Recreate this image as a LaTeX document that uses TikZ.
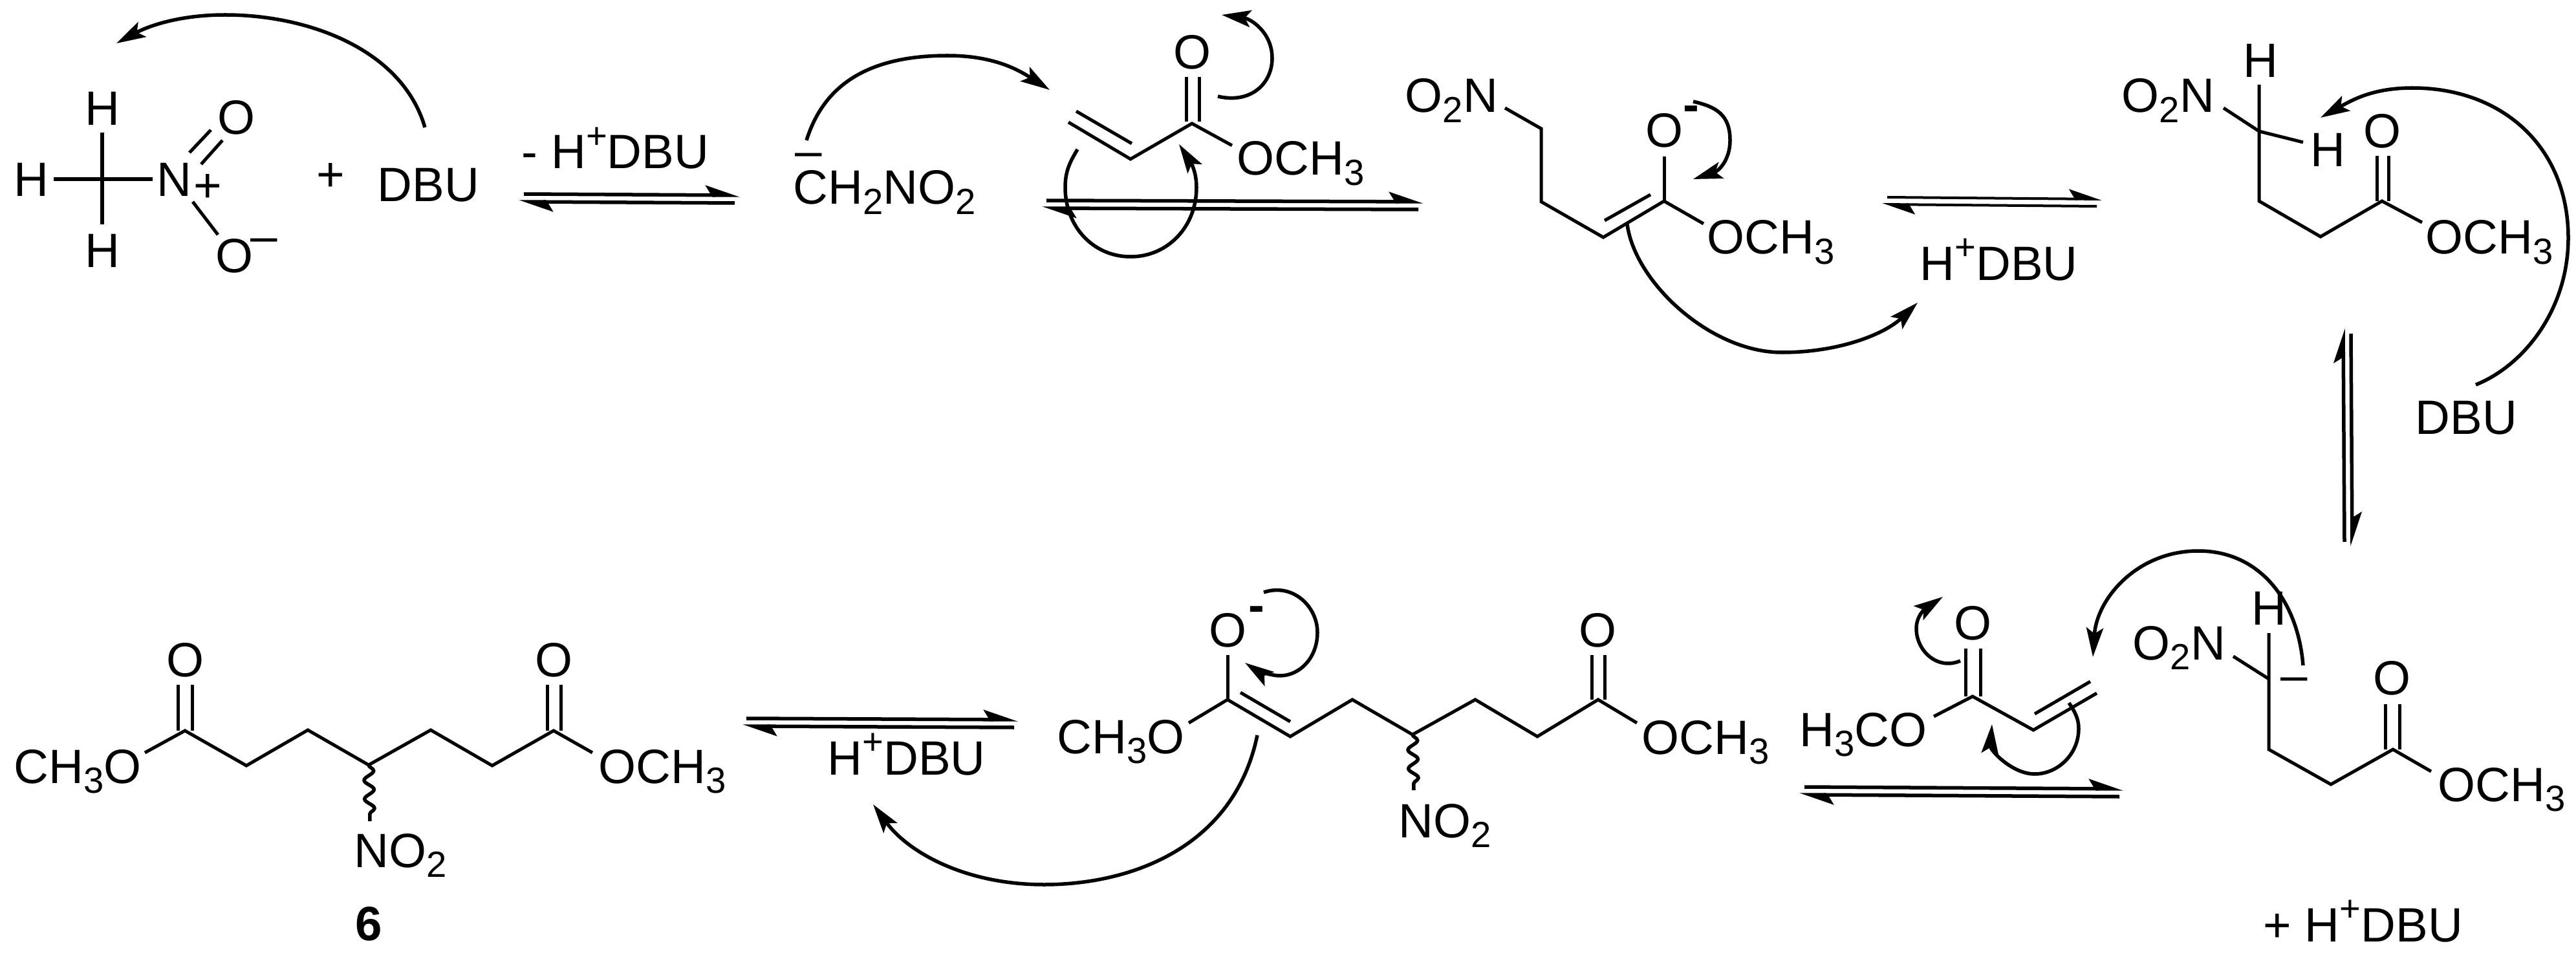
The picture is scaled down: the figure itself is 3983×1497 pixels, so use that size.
\documentclass[tikz,border=0pt]{standalone}
\usepackage{fontspec}
\setmainfont{Liberation Sans}
\usetikzlibrary{arrows.meta,decorations.pathmorphing}
\newcommand{\chemsub}[1]{\raisebox{-0.21em}{\fontsize{16}{18}\selectfont #1}}
\newcommand{\chemsup}[1]{\raisebox{0.42em}{\fontsize{16}{18}\selectfont #1}}
\begin{document}
\begin{tikzpicture}[x=0.01cm,y=-0.01cm,
  every node/.style={inner sep=0pt,font=\fontsize{21.2}{25}\selectfont},
  atom/.style={anchor=base},
  grp/.style={anchor=base west},
  bond/.style={line width=0.05cm},
  wavy/.style={line width=0.055cm,decorate,decoration={snake,amplitude=0.075cm,segment length=0.29cm}},
  eqarrow/.style={line width=0.055cm,-{Stealth[harpoon,length=0.45cm,width=0.3cm,inset=0.09cm]}},
  eqthin/.style={line width=0.04cm,-{Stealth[harpoon,length=0.45cm,width=0.3cm,inset=0.09cm]}},
  push/.style={line width=0.055cm,-{Stealth[length=0.45cm,width=0.26cm,inset=0.09cm]}}]

\useasboundingbox (0,0) rectangle (3983,1497);

\node[atom] (nmH1) at (48,304) {H};
\node[atom] (nmH2) at (158,194) {H};
\node[atom] (nmH3) at (158,413) {H};
\node[atom] (nmN) at (269,304) {N};
\node[atom] (nmPlus) at (321,313) {+};
\node[atom] (nmO1) at (365,208) {O};
\node[atom] (nmO2) at (362,422) {O};
\node[atom] (nmMinus) at (408,390) {–};
\node[atom] (plusA) at (511,296) {+};
\node[grp] (dbuA) at (583,312) {DBU};
\node[grp] (lossA) at (806,261) {- H\chemsup{+}DBU};
\node[atom] (caMinus) at (1250,259) {–};
\node[grp] (ylide) at (1226,316) {CH\chemsub{2}NO\chemsub{2}};
\node[atom] (acO) at (1843,107) {O};
\node[grp] (acOMe) at (1912,271) {OCH\chemsub{3}};
\node[grp] (enNO) at (2172,174) {O\chemsub{2}N};
\node[atom] (enOx) at (2573,228) {O};
\node[atom,font=\fontsize{21.2}{25}\selectfont\bfseries] (enMinus) at (2615,188) {-};
\node[grp] (enOMe) at (2639,393) {OCH\chemsub{3}};
\node[grp] (dbuB) at (2968,433) {H\chemsup{+}DBU};
\node[grp] (neNO) at (3280,174) {O\chemsub{2}N};
\node[atom] (neH1) at (3495,120) {H};
\node[atom] (neH2) at (3599,258) {H};
\node[atom] (neO) at (3683,229) {O};
\node[grp] (neOMe) at (3750,393) {OCH\chemsub{3}};
\node[grp] (dbuC) at (3734,671) {DBU};
\node[grp] (caNO) at (3297,1020) {O\chemsub{2}N};
\node[atom] (caH) at (3508,966) {H};
\node[atom] (caDash) at (3547,1069) {–};
\node[atom] (caO) at (3698,1074) {O};
\node[grp] (caOMe) at (3769,1239) {OCH\chemsub{3}};
\node[grp] (dbuD) at (3499,1456) {+ H\chemsup{+}DBU};
\node[grp] (acbOMe) at (2782,1154) {H\chemsub{3}CO};
\node[atom] (acbO) at (3050,989) {O};
\node[atom] (eboO) at (1898,1000) {O};
\node[atom,font=\fontsize{21.2}{25}\selectfont\bfseries] (eboMinus) at (1943,961) {-};
\node[grp] (eboMeO) at (1634,1165) {CH\chemsub{3}O};
\node[grp] (eboOMe) at (2538,1166) {OCH\chemsub{3}};
\node[atom] (eboOb) at (2470,1000) {O};
\node[grp] (eboNO) at (2162,1295) {NO\chemsub{2}};
\node[grp] (dbuE) at (1279,1198) {H\chemsup{+}DBU};
\node[grp] (prMeO) at (21,1211) {CH\chemsub{3}O};
\node[atom] (prOa) at (286,1046) {O};
\node[atom] (prOb) at (856,1046) {O};
\node[grp] (prOMe) at (925,1211) {OCH\chemsub{3}};
\node[grp] (prNO) at (547,1341) {NO\chemsub{2}};
\node[atom,font=\fontsize{21.2}{25}\selectfont\bfseries] (prNum) at (570,1454) {6};

\coordinate (nmC) at (158,277);
\coordinate (nmA) at (83,277);
\coordinate (nmB) at (236,277);
\coordinate (nmU) at (158,205);
\coordinate (nmD) at (158,347);
\coordinate (nmE) at (293,236);
\coordinate (nmF) at (326,201);
\coordinate (nmG) at (311,254);
\coordinate (nmI) at (344,217);
\coordinate (nmJ) at (298,312);
\coordinate (nmK) at (337,363);
\draw[bond] (nmA) -- (nmB);
\draw[bond] (nmU) -- (nmD);
\draw[bond] (nmE) -- (nmF);
\draw[bond] (nmG) -- (nmI);
\draw[bond] (nmJ) -- (nmK);

\coordinate (ac1) at (1652,189);
\coordinate (ac2) at (1748,246);
\coordinate (ac3) at (1843,191);
\coordinate (ac4) at (1905,225);
\coordinate (ac5) at (1664,172);
\coordinate (ac6) at (1750,222);
\coordinate (ac7) at (1834,188);
\coordinate (ac8) at (1834,119);
\coordinate (ac9) at (1854,188);
\coordinate (ac10) at (1854,119);
\draw[bond] (ac1) -- (ac2) -- (ac3) -- (ac4);
\draw[bond] (ac5) -- (ac6);
\draw[bond] (ac7) -- (ac8);
\draw[bond] (ac9) -- (ac10);

\coordinate (en1) at (2327,167);
\coordinate (en2) at (2383,199);
\coordinate (en3) at (2383,312);
\coordinate (en4) at (2479,367);
\coordinate (en5) at (2573,311);
\coordinate (en6) at (2634,346);
\coordinate (en7) at (2481,341);
\coordinate (en8) at (2552,301);
\coordinate (en9) at (2573,242);
\draw[bond] (en1) -- (en2) -- (en3) -- (en4) -- (en5) -- (en6);
\draw[bond] (en7) -- (en8);
\draw[bond] (en9) -- (en5);

\coordinate (ne1) at (3438,167);
\coordinate (ne2) at (3493,203);
\coordinate (ne3) at (3561,220);
\coordinate (ne4) at (3493,131);
\coordinate (ne5) at (3493,311);
\coordinate (ne6) at (3588,366);
\coordinate (ne7) at (3683,311);
\coordinate (ne8) at (3745,344);
\coordinate (ne9) at (3675,311);
\coordinate (ne10) at (3675,241);
\coordinate (ne11) at (3693,311);
\coordinate (ne12) at (3693,241);
\draw[bond] (ne1) -- (ne2) -- (ne3);
\draw[bond] (ne4) -- (ne5) -- (ne6) -- (ne7) -- (ne8);
\draw[bond] (ne9) -- (ne10);
\draw[bond] (ne11) -- (ne12);

\coordinate (ca1) at (3453,1015);
\coordinate (ca2) at (3508,1050);
\coordinate (ca3) at (3508,979);
\coordinate (ca4) at (3508,1159);
\coordinate (ca5) at (3604,1213);
\coordinate (ca6) at (3700,1159);
\coordinate (ca7) at (3759,1193);
\coordinate (ca8) at (3688,1159);
\coordinate (ca9) at (3688,1089);
\coordinate (ca10) at (3710,1159);
\coordinate (ca11) at (3710,1089);
\draw[bond] (ca1) -- (ca2);
\draw[bond] (ca3) -- (ca4) -- (ca5) -- (ca6) -- (ca7);
\draw[bond] (ca8) -- (ca9);
\draw[bond] (ca10) -- (ca11);

\coordinate (acb1) at (2990,1108);
\coordinate (acb2) at (3050,1077);
\coordinate (acb3) at (3144,1129);
\coordinate (acb4) at (3242,1072);
\coordinate (acb5) at (3146,1104);
\coordinate (acb6) at (3232,1054);
\coordinate (acb7) at (3039,1077);
\coordinate (acb8) at (3039,1003);
\coordinate (acb9) at (3062,1077);
\coordinate (acb10) at (3062,1003);
\draw[bond] (acb1) -- (acb2) -- (acb3) -- (acb4);
\draw[bond] (acb5) -- (acb6);
\draw[bond] (acb7) -- (acb8);
\draw[bond] (acb9) -- (acb10);

\coordinate (ebo1) at (1838,1118);
\coordinate (ebo2) at (1898,1082);
\coordinate (ebo3) at (1995,1139);
\coordinate (ebo4) at (2091,1082);
\coordinate (ebo5) at (2184,1136);
\coordinate (ebo6) at (2281,1082);
\coordinate (ebo7) at (2377,1139);
\coordinate (ebo8) at (2471,1082);
\coordinate (ebo9) at (2531,1118);
\coordinate (ebo10) at (1918,1071);
\coordinate (ebo11) at (1995,1116);
\coordinate (ebo12) at (1898,1013);
\coordinate (ebo13) at (2461,1082);
\coordinate (ebo14) at (2461,1013);
\coordinate (ebo15) at (2481,1082);
\coordinate (ebo16) at (2481,1013);
\coordinate (ebo17) at (2186,1222);
\draw[bond] (ebo1) -- (ebo2) -- (ebo3) -- (ebo4) -- (ebo5) -- (ebo6) -- (ebo7) -- (ebo8) -- (ebo9);
\draw[bond] (ebo10) -- (ebo11);
\draw[bond] (ebo12) -- (ebo2);
\draw[bond] (ebo13) -- (ebo14);
\draw[bond] (ebo15) -- (ebo16);
\draw[wavy] (ebo5) -- (ebo17);

\coordinate (pr1) at (224,1164);
\coordinate (pr2) at (286,1130);
\coordinate (pr3) at (381,1184);
\coordinate (pr4) at (476,1129);
\coordinate (pr5) at (570,1183);
\coordinate (pr6) at (666,1129);
\coordinate (pr7) at (761,1184);
\coordinate (pr8) at (856,1130);
\coordinate (pr9) at (916,1164);
\coordinate (pr10) at (275,1130);
\coordinate (pr11) at (275,1059);
\coordinate (pr12) at (297,1130);
\coordinate (pr13) at (297,1059);
\coordinate (pr14) at (846,1130);
\coordinate (pr15) at (846,1059);
\coordinate (pr16) at (867,1130);
\coordinate (pr17) at (867,1059);
\coordinate (pr18) at (572,1270);
\draw[bond] (pr1) -- (pr2) -- (pr3) -- (pr4) -- (pr5) -- (pr6) -- (pr7) -- (pr8) -- (pr9);
\draw[bond] (pr10) -- (pr11);
\draw[bond] (pr12) -- (pr13);
\draw[bond] (pr14) -- (pr15);
\draw[bond] (pr16) -- (pr17);
\draw[wavy] (pr5) -- (pr18);

\coordinate (eq1a) at (810,300);
\coordinate (eq1b) at (1144,302);
\coordinate (eq1c) at (1136,314);
\coordinate (eq1d) at (802,312);
\draw[eqarrow] (eq1a) -- (eq1b);
\draw[eqarrow] (eq1c) -- (eq1d);

\coordinate (eq2a) at (1618,310);
\coordinate (eq2b) at (2201,312);
\coordinate (eq2c) at (2193,324);
\coordinate (eq2d) at (1611,322);
\draw[eqarrow] (eq2a) -- (eq2b);
\draw[eqarrow] (eq2c) -- (eq2d);

\coordinate (eq3a) at (2918,305);
\coordinate (eq3b) at (3250,308);
\coordinate (eq3c) at (3242,319);
\coordinate (eq3d) at (2910,316);
\draw[eqthin] (eq3a) -- (eq3b);
\draw[eqthin] (eq3c) -- (eq3d);

\coordinate (eq4a) at (3625,838);
\coordinate (eq4b) at (3623,508);
\coordinate (eq4c) at (3635,516);
\coordinate (eq4d) at (3637,845);
\draw[eqarrow] (eq4a) -- (eq4b);
\draw[eqarrow] (eq4c) -- (eq4d);

\coordinate (eq5a) at (2790,1217);
\coordinate (eq5b) at (3283,1220);
\coordinate (eq5c) at (3277,1232);
\coordinate (eq5d) at (2782,1229);
\draw[eqarrow] (eq5a) -- (eq5b);
\draw[eqarrow] (eq5c) -- (eq5d);

\coordinate (eq6a) at (1154,1111);
\coordinate (eq6b) at (1574,1113);
\coordinate (eq6c) at (1568,1125);
\coordinate (eq6d) at (1148,1123);
\draw[eqarrow] (eq6a) -- (eq6b);
\draw[eqarrow] (eq6c) -- (eq6d);

\coordinate (pu1a) at (657,197);
\coordinate (pu1b) at (348,23);
\coordinate (pu1c) at (180,67);
\draw[push] (pu1a) .. controls +(-35,-120) and +(130,0) .. (pu1b)
  .. controls +(-70,0) and +(50,-27) .. (pu1c);

\coordinate (pu2a) at (1247,217);
\coordinate (pu2b) at (1465,86);
\coordinate (pu2c) at (1623,139);
\draw[push] (pu2a) .. controls +(25,-80) and +(-130,0) .. (pu2b)
  .. controls +(70,0) and +(-50,-32) .. (pu2c);

\coordinate (pu3a) at (1883,149);
\coordinate (pu3b) at (1967,90);
\coordinate (pu3c) at (1889,23);
\draw[push] (pu3a) .. controls +(50,12) and +(0,40) .. (pu3b)
  .. controls +(0,-40) and +(45,6) .. (pu3c);

\coordinate (pu4a) at (1666,231);
\coordinate (pu4b) at (1647,290);
\coordinate (pu4c) at (1748,397);
\coordinate (pu4d) at (1850,290);
\coordinate (pu4e) at (1823,223);
\draw[push] (pu4a) .. controls +(-12,20) and +(0,-25) .. (pu4b)
  .. controls +(0,60) and +(-58,0) .. (pu4c)
  .. controls +(58,0) and +(0,60) .. (pu4d)
  .. controls +(0,-25) and +(18,28) .. (pu4e);

\coordinate (pu5a) at (2618,157);
\coordinate (pu5b) at (2675,217);
\coordinate (pu5c) at (2618,277);
\draw[push] (pu5a) .. controls +(35,8) and +(0,-40) .. (pu5b)
  .. controls +(0,32) and +(38,-12) .. (pu5c);

\coordinate (pu6a) at (2516,347);
\coordinate (pu6b) at (2755,545);
\coordinate (pu6c) at (2965,468);
\draw[push] (pu6a) .. controls +(12,90) and +(-110,0) .. (pu6b)
  .. controls +(90,0) and +(-50,48) .. (pu6c);

\coordinate (pu7a) at (3828,595);
\coordinate (pu7b) at (3971,368);
\coordinate (pu7c) at (3730,136);
\coordinate (pu7d) at (3588,182);
\draw[push] (pu7a) .. controls +(75,-30) and +(0,110) .. (pu7b)
  .. controls +(0,-140) and +(140,0) .. (pu7c)
  .. controls +(-60,0) and +(50,-28) .. (pu7d);

\coordinate (pu8a) at (3561,1029);
\coordinate (pu8b) at (3399,852);
\coordinate (pu8c) at (3236,1016);
\draw[push] (pu8a) .. controls +(-8,-100) and +(95,0) .. (pu8b)
  .. controls +(-95,0) and +(6,-90) .. (pu8c);

\coordinate (pu9a) at (3031,1022);
\coordinate (pu9b) at (2963,972);
\coordinate (pu9c) at (3004,923);
\draw[push] (pu9a) .. controls +(-35,15) and +(0,35) .. (pu9b)
  .. controls +(0,-22) and +(-24,16) .. (pu9c);

\coordinate (pu10a) at (3199,1087);
\coordinate (pu10b) at (3214,1127);
\coordinate (pu10c) at (3146,1197);
\coordinate (pu10d) at (3080,1120);
\draw[push] (pu10a) .. controls +(10,15) and +(0,-15) .. (pu10b)
  .. controls +(0,40) and +(35,0) .. (pu10c)
  .. controls +(-35,0) and +(-3,40) .. (pu10d);

\coordinate (pu11a) at (1954,916);
\coordinate (pu11b) at (2037,978);
\coordinate (pu11c) at (1979,1045);
\coordinate (pu11d) at (1925,1025);
\draw[push] (pu11a) .. controls +(45,-15) and +(0,-40) .. (pu11b)
  .. controls +(0,40) and +(30,0) .. (pu11c)
  .. controls +(-15,0) and +(15,10) .. (pu11d);

\coordinate (pu12a) at (1944,1137);
\coordinate (pu12b) at (1614,1368);
\coordinate (pu12c) at (1350,1244);
\draw[push] (pu12a) .. controls +(-35,170) and +(140,0) .. (pu12b)
  .. controls +(-120,0) and +(55,75) .. (pu12c);

\end{tikzpicture}
\end{document}
